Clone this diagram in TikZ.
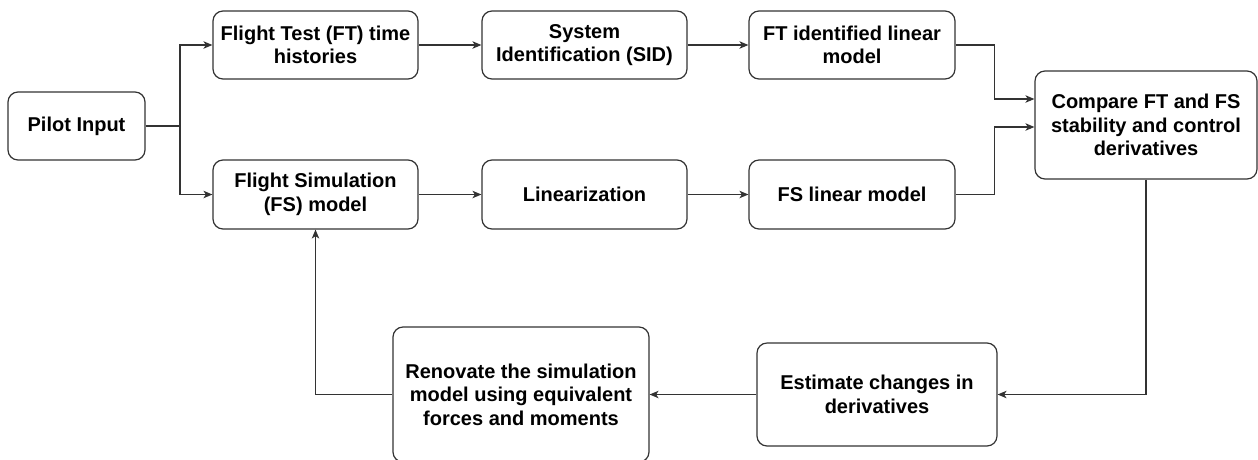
\documentclass[tikz,border=0pt]{standalone}
\usepackage{fontspec}
\setmainfont{Liberation Sans}
\usetikzlibrary{arrows.meta}
\definecolor{lc}{HTML}{333333}
\begin{document}
\begin{tikzpicture}[x=1pt,y=-1pt,
  box/.style={draw=lc, line width=1.2pt, rounded corners=10pt, align=center,
    inner sep=0pt, font=\fontsize{20}{23.5}\selectfont\bfseries, text=black},
  conn/.style={draw=lc, line width=1.2pt, -{Stealth[length=9pt,width=7.5pt,inset=2.5pt]}},
  line/.style={draw=lc, line width=1.2pt}]
\useasboundingbox (0,0) rectangle (1258,459);
\node[box, minimum width=137pt, minimum height=68pt] (pilot) at (76.5,126) {Pilot Input};
\node[box, minimum width=205pt, minimum height=68pt] (ft) at (315.5,45) {Flight Test (FT) time\\histories};
\node[box, minimum width=205pt, minimum height=69pt] (fs) at (315.5,194.5) {Flight Simulation\\(FS) model};
\node[box, minimum width=205pt, minimum height=68pt] (sid) at (584.5,45) {System\\Identification (SID)};
\node[box, minimum width=205pt, minimum height=69pt] (lin) at (584.5,194.5) {Linearization};
\node[box, minimum width=206pt, minimum height=68pt] (ftlin) at (852,45) {FT identified linear\\model};
\node[box, minimum width=206pt, minimum height=69pt] (fslin) at (852,194.5) {FS linear model};
\node[box, minimum width=222pt, minimum height=108pt] (cmp) at (1146,125) {Compare FT and FS\\stability and control\\derivatives};
\node[box, minimum width=240pt, minimum height=103pt] (est) at (877,394.5) {Estimate changes in\\derivatives};
\node[box, minimum width=256pt, minimum height=135pt] (ren) at (521,394.5) {Renovate the simulation\\model using equivalent\\forces and moments};
\coordinate (j) at (180,126);
\coordinate (cin1) at (cmp.west |- 0,99);
\coordinate (cin2) at (cmp.west |- 0,127);
\draw[line] (pilot.east) -- (j);
\draw[conn] (j) |- (ft.west);
\draw[conn] (j) |- (fs.west);
\draw[conn] (ft) -- (sid);
\draw[conn] (sid) -- (ftlin);
\draw[conn] (fs) -- (lin);
\draw[conn] (lin) -- (fslin);
\draw[conn] (ftlin.east) -- ++(39,0) |- (cin1);
\draw[conn] (fslin.east) -- ++(39,0) |- (cin2);
\draw[conn] (cmp.south) |- (est.east);
\draw[conn] (est.west) -- (ren.east);
\draw[conn] (ren.west) -| (fs.south);
\end{tikzpicture}
\end{document}
